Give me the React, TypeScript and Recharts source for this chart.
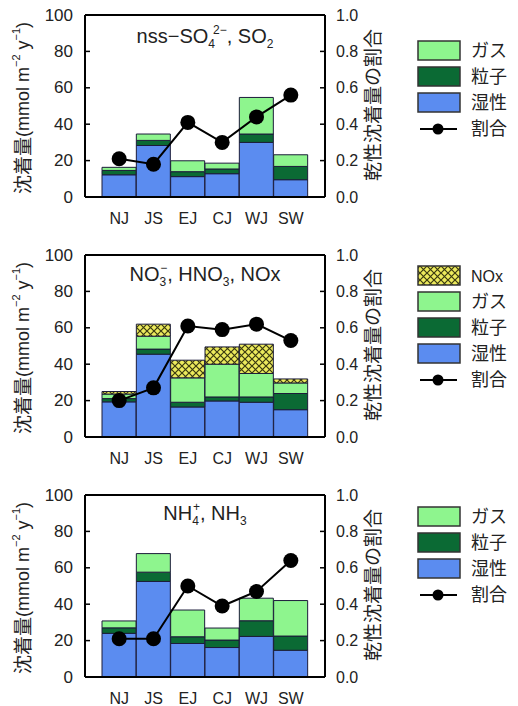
import React from 'react';
import { ComposedChart, Bar, Line, XAxis, YAxis, ReferenceLine } from 'recharts';

const categories = ['NJ', 'JS', 'EJ', 'CJ', 'WJ', 'SW'];
const leftTicks = [0, 20, 40, 60, 80, 100];
const rightTicks = [0, 0.2, 0.4, 0.6, 0.8, 1.0];

// Panel 1: nss-SO4 2-, SO2
const so4Wet = [12.2, 28.3, 11.2, 12.8, 30.0, 9.5];
const so4Particle = [2.4, 2.8, 2.7, 2.6, 4.6, 7.3];
const so4Gas = [1.7, 3.5, 6.0, 3.2, 20.1, 6.4];
const so4Ratio = [0.21, 0.18, 0.41, 0.30, 0.44, 0.56];

// Panel 2: NO3-, HNO3, NOx
const no3Wet = [19.3, 45.5, 16.5, 19.8, 19.1, 15.0];
const no3Particle = [1.8, 2.8, 2.6, 2.2, 2.9, 8.9];
const no3Gas = [2.5, 7.1, 13.4, 18.0, 12.9, 5.8];
const no3NOx = [1.4, 6.6, 9.7, 9.5, 16.1, 2.2];
const no3Ratio = [0.20, 0.27, 0.61, 0.59, 0.62, 0.53];

// Panel 3: NH4+, NH3
const nh4Wet = [24.0, 52.5, 18.4, 16.2, 22.3, 14.7];
const nh4Particle = [3.0, 5.1, 3.7, 4.1, 8.6, 7.8];
const nh4Gas = [3.8, 10.2, 14.7, 6.6, 12.4, 19.5];
const nh4Ratio = [0.21, 0.21, 0.50, 0.39, 0.47, 0.64];

const COLORS = {
  gas: '#8ef58e',
  particle: '#0b6a34',
  wet: '#5b8cf0',
  nox: '#ecea5c',
  stroke: '#1c1c3a',
};

const FONT = "'Liberation Sans', Arial, 'Noto Sans CJK JP', sans-serif";
const TEXT = '#222';

const CHART_W = 400;
const CHART_H = 235;
const PLOT_TOP = 15;
const LEFT_W = 85;
const RIGHT_W = 75;
const PLOT_L = LEFT_W;
const PLOT_R = CHART_W - RIGHT_W;
const PANEL_OFFSETS = [0, 240, 480];

function buildRows(wet: number[], particle: number[], gas: number[], ratio: number[], nox?: number[]) {
  return categories.map((cat, i) => ({
    cat,
    wet: wet[i],
    particle: particle[i],
    gas: gas[i],
    nox: nox ? nox[i] : undefined,
    ratio: ratio[i],
  }));
}

const panels = [
  { key: 'so4', data: buildRows(so4Wet, so4Particle, so4Gas, so4Ratio), hasNox: false },
  { key: 'no3', data: buildRows(no3Wet, no3Particle, no3Gas, no3Ratio, no3NOx), hasNox: true },
  { key: 'nh4', data: buildRows(nh4Wet, nh4Particle, nh4Gas, nh4Ratio), hasNox: false },
];

const LeftTick = (props: any) => {
  const { y, payload } = props;
  return (
    <g>
      <line x1={PLOT_L} x2={PLOT_L + 5} y1={y} y2={y} stroke="#000" strokeWidth={1.5} />
      <text x={PLOT_L - 12} y={y} textAnchor="end" dominantBaseline="central" fontSize={17} fill={TEXT} fontFamily={FONT}>
        {payload.value}
      </text>
    </g>
  );
};

const RightTick = (props: any) => {
  const { y, payload } = props;
  return (
    <g>
      <line x1={PLOT_R - 5} x2={PLOT_R} y1={y} y2={y} stroke="#000" strokeWidth={1.5} />
      <text x={PLOT_R + 11} y={y} textAnchor="start" dominantBaseline="central" fontSize={16} fill={TEXT} fontFamily={FONT}>
        {Number(payload.value).toFixed(1)}
      </text>
    </g>
  );
};

function Panel({ data, hasNox, idx }: { data: any[]; hasNox: boolean; idx: number }) {
  const patId = `noxHatch${idx}`;
  return (
    <div style={{ position: 'absolute', left: 0, top: PANEL_OFFSETS[idx] }}>
      <ComposedChart
        width={CHART_W}
        height={CHART_H}
        data={data}
        margin={{ top: PLOT_TOP, right: 0, left: 0, bottom: 8 }}
        barCategoryGap={0}
        barGap={0}
      >
        <defs>
          <pattern id={patId} patternUnits="userSpaceOnUse" width={7} height={7}>
            <rect width={7} height={7} fill={COLORS.nox} />
            <path d="M0,0 L7,7 M7,0 L0,7" stroke="#3a3a10" strokeWidth={1.2} />
          </pattern>
        </defs>
        <XAxis
          dataKey="cat"
          padding={{ left: 17, right: 17 }}
          axisLine={{ stroke: '#000', strokeWidth: 2 }}
          tickLine={false}
          tickSize={0}
          tickMargin={16}
          height={30}
          tick={{ fontSize: 16, fill: TEXT, fontFamily: FONT }}
          interval={0}
        />
        <YAxis
          yAxisId="left"
          orientation="left"
          width={LEFT_W}
          domain={[0, 100]}
          ticks={leftTicks}
          axisLine={{ stroke: '#000', strokeWidth: 2 }}
          tickLine={false}
          tick={<LeftTick />}
          interval={0}
        />
        <YAxis
          yAxisId="right"
          orientation="right"
          width={RIGHT_W}
          domain={[0, 1]}
          ticks={rightTicks}
          axisLine={{ stroke: '#000', strokeWidth: 2 }}
          tickLine={false}
          tick={<RightTick />}
          interval={0}
        />
        <Bar yAxisId="left" dataKey="wet" stackId="s" fill={COLORS.wet} stroke={COLORS.stroke} strokeWidth={1} isAnimationActive={false} />
        <Bar yAxisId="left" dataKey="particle" stackId="s" fill={COLORS.particle} stroke={COLORS.stroke} strokeWidth={1} isAnimationActive={false} />
        <Bar yAxisId="left" dataKey="gas" stackId="s" fill={COLORS.gas} stroke={COLORS.stroke} strokeWidth={1} isAnimationActive={false} />
        {hasNox && (
          <Bar yAxisId="left" dataKey="nox" stackId="s" fill={`url(#${patId})`} stroke={COLORS.stroke} strokeWidth={1} isAnimationActive={false} />
        )}
        <ReferenceLine yAxisId="left" y={100} stroke="#000" strokeWidth={2} />
        <Line
          yAxisId="right"
          dataKey="ratio"
          stroke="#000"
          strokeWidth={2}
          dot={{ r: 7.5, fill: '#000', stroke: '#000', strokeWidth: 0 }}
          isAnimationActive={false}
        />
      </ComposedChart>
    </div>
  );
}

const legendBase = [
  { key: 'gas', label: 'ガス', fill: COLORS.gas },
  { key: 'particle', label: '粒子', fill: COLORS.particle },
  { key: 'wet', label: '湿性', fill: COLORS.wet },
];

function Legend({ top, hasNox }: { top: number; hasNox: boolean }) {
  const items = hasNox ? [{ key: 'nox', label: 'NOx', fill: 'url(#legendHatch)' }, ...legendBase] : legendBase;
  const step = 26;
  return (
    <g>
      {items.map((it, i) => (
        <g key={it.key}>
          <rect x={418} y={top + i * step} width={42} height={19} fill={it.fill} stroke="#333" strokeWidth={1.5} />
          <text x={471} y={top + i * step + 10} dominantBaseline="central" fontSize={it.key === 'nox' ? 16 : 18} fill={TEXT} fontFamily={FONT}>
            {it.label}
          </text>
        </g>
      ))}
      <line x1={420} x2={457} y1={top + items.length * step + 10} y2={top + items.length * step + 10} stroke="#000" strokeWidth={2} />
      <circle cx={438} cy={top + items.length * step + 10} r={5.5} fill="#000" />
      <text x={471} y={top + items.length * step + 10} dominantBaseline="central" fontSize={18} fill={TEXT} fontFamily={FONT}>
        割合
      </text>
    </g>
  );
}

function AxisTitles({ top }: { top: number }) {
  const cy = top + PLOT_TOP + 93;
  return (
    <g>
      <text
        transform={`translate(23, ${cy}) rotate(-90)`}
        textAnchor="middle"
        dominantBaseline="central"
        fontSize={18}
        fill={TEXT}
        fontFamily={FONT}
      >
        <tspan fontSize={19}>沈着量</tspan>
        <tspan>(mmol m</tspan>
        <tspan fontSize={11} dy={-7}>−2</tspan>
        <tspan dy={7}> y</tspan>
        <tspan fontSize={11} dy={-7}>−1</tspan>
        <tspan dy={7}>)</tspan>
      </text>
      <text
        transform={`translate(373, ${top + PLOT_TOP + 90}) rotate(-90)`}
        textAnchor="middle"
        dominantBaseline="central"
        fontSize={19}
        fill={TEXT}
        fontFamily={FONT}
      >
        乾性沈着量の割合
      </text>
    </g>
  );
}

function Titles() {
  const cx = (PLOT_L + PLOT_R) / 2;
  return (
    <g fontFamily={FONT} fill={TEXT}>
      <text x={cx} y={43} textAnchor="middle" fontSize={20}>
        <tspan>nss−SO</tspan>
        <tspan fontSize={12} dy={5}>4</tspan>
        <tspan fontSize={12} dx={-2} dy={-14}>2−</tspan>
        <tspan dy={9}>, SO</tspan>
        <tspan fontSize={12} dy={5}>2</tspan>
      </text>
      <text x={cx} y={240 + 41} textAnchor="middle" fontSize={20}>
        <tspan>NO</tspan>
        <tspan fontSize={12} dy={5}>3</tspan>
        <tspan fontSize={12} dx={-6} dy={-14}>−</tspan>
        <tspan dy={9}>, HNO</tspan>
        <tspan fontSize={12} dy={5}>3</tspan>
        <tspan dy={-5}>, NOx</tspan>
      </text>
      <text x={cx} y={480 + 40} textAnchor="middle" fontSize={20}>
        <tspan>NH</tspan>
        <tspan fontSize={12} dy={5}>4</tspan>
        <tspan fontSize={12} dx={-6} dy={-14}>+</tspan>
        <tspan dy={9}>, NH</tspan>
        <tspan fontSize={12} dy={5}>3</tspan>
      </text>
    </g>
  );
}

export default function App() {
  return (
    <div style={{ position: 'absolute', left: 0, top: 0, width: 518, height: 706, background: '#fff' }}>
      {panels.map((p, i) => (
        <Panel key={p.key} data={p.data} hasNox={p.hasNox} idx={i} />
      ))}
      <svg width={518} height={706} style={{ position: 'absolute', left: 0, top: 0, pointerEvents: 'none' }}>
        <defs>
          <pattern id="legendHatch" patternUnits="userSpaceOnUse" width={7} height={7}>
            <rect width={7} height={7} fill={COLORS.nox} />
            <path d="M0,0 L7,7 M7,0 L0,7" stroke="#3a3a10" strokeWidth={1.2} />
          </pattern>
        </defs>
        <Titles />
        {PANEL_OFFSETS.map((off) => (
          <AxisTitles key={off} top={off} />
        ))}
        <Legend top={41} hasNox={false} />
        <Legend top={266} hasNox={true} />
        <Legend top={507} hasNox={false} />
      </svg>
    </div>
  );
}
